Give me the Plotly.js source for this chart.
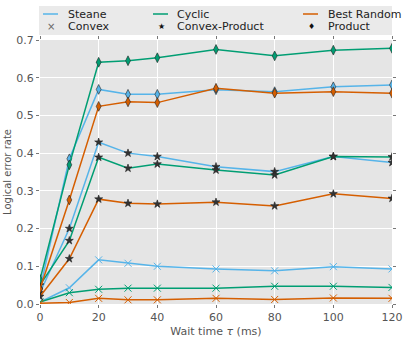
<!DOCTYPE html>
<html>
<head>
<meta charset="utf-8">
<script src="https://cdn.plot.ly/plotly-3.0.1.min.js"></script>
<style>
  html, body { margin: 0; padding: 0; background: #fff; }
  #vis { width: 407px; height: 340px; }
</style>
</head>
<body>
<div id="vis"></div>
<script>
// wait times (ms)
const waitTime = [0, 10, 20, 30, 40, 60, 80, 100, 120];

// logical error rates
const steaneConvex = [0.005, 0.043, 0.117, 0.108, 0.100, 0.093, 0.088, 0.099, 0.093];
const steaneConvexProduct = [0.030, 0.200, 0.429, 0.400, 0.391, 0.364, 0.351, 0.391, 0.375];
const steaneProduct = [0.040, 0.385, 0.569, 0.556, 0.556, 0.568, 0.563, 0.576, 0.581];

const cyclicConvex = [0.005, 0.030, 0.039, 0.042, 0.042, 0.042, 0.047, 0.047, 0.044];
const cyclicConvexProduct = [0.050, 0.168, 0.389, 0.360, 0.371, 0.355, 0.342, 0.391, 0.390];
const cyclicProduct = [0.065, 0.369, 0.641, 0.645, 0.653, 0.675, 0.658, 0.673, 0.678];

const randomConvex = [0.002, 0.004, 0.015, 0.011, 0.011, 0.015, 0.012, 0.016, 0.015];
const randomConvexProduct = [0.020, 0.120, 0.278, 0.267, 0.265, 0.270, 0.260, 0.292, 0.280];
const randomProduct = [0.040, 0.276, 0.524, 0.536, 0.534, 0.572, 0.559, 0.563, 0.559];

const codeNames = ['Steane', 'Cyclic', 'Best Random'];
const codeColors = ['#56B4E9', '#009E73', '#D55E00'];
const schemeNames = ['Convex', 'Convex-Product', 'Product'];
const schemeSymbols = ['x-thin-open', 'star', 'diamond-tall'];
const schemeGlyphs = ['×', '★', '♦'];

const series = [
  [steaneConvex, steaneConvexProduct, steaneProduct],
  [cyclicConvex, cyclicConvexProduct, cyclicProduct],
  [randomConvex, randomConvexProduct, randomProduct],
];

const traces = [];
series.forEach((codeSeries, ci) => {
  codeSeries.forEach((ys, si) => {
    const isX = si === 0;
    traces.push({
      x: waitTime,
      y: ys,
      type: 'scatter',
      mode: 'lines+markers',
      showlegend: false,
      hoverinfo: 'skip',
      line: { color: codeColors[ci], width: 1.5 },
      marker: {
        symbol: schemeSymbols[si],
        size: si === 1 ? 6 : 7,
        color: si === 1 ? '#333' : codeColors[ci],
        line: { color: isX ? codeColors[ci] : '#222', width: isX ? 1 : 0.6 },
      },
    });
  });
});

// legend box above the axes, drawn by hand (three columns, two rows)
const W = 407, H = 340;
const colLine = [43, 153, 303];   // left end of line handle, px
const colText = [66, 175, 326];   // text start, px
const rowY = [14, 26];            // row centres, px

const shapes = [{
  type: 'rect', xref: 'paper', yref: 'paper',
  x0: (39 - 40) / 352, x1: (392 - 40) / 352,
  y0: (304 - 35) / 264, y1: (304 - 6) / 264,
  fillcolor: '#EAEAEA', line: { width: 0 }, layer: 'below',
}];
const annotations = [];
codeNames.forEach((name, i) => {
  shapes.push({
    type: 'line', xref: 'paper', yref: 'paper',
    x0: (colLine[i] - 40) / 352, x1: (colLine[i] + 15 - 40) / 352,
    y0: (304 - rowY[0]) / 264, y1: (304 - rowY[0]) / 264,
    line: { color: codeColors[i], width: 1.5 },
  });
  annotations.push({
    text: name, xref: 'paper', yref: 'paper',
    x: (colText[i] - 40) / 352, y: (304 - rowY[0]) / 264,
    xanchor: 'left', yanchor: 'middle', showarrow: false,
    font: { size: 11, color: '#222' },
  });
});
schemeNames.forEach((name, i) => {
  annotations.push({
    text: schemeGlyphs[i], xref: 'paper', yref: 'paper',
    x: (colLine[i] + 8 - 40) / 352, y: (304 - rowY[1]) / 264,
    xanchor: 'center', yanchor: 'middle', showarrow: false,
    font: { size: i === 0 ? 10 : 8, color: i === 0 ? '#666' : '#111' },
  });
  annotations.push({
    text: name, xref: 'paper', yref: 'paper',
    x: (colText[i] - 40) / 352, y: (304 - rowY[1]) / 264,
    xanchor: 'left', yanchor: 'middle', showarrow: false,
    font: { size: 11, color: '#222' },
  });
});

const layout = {
  width: W,
  height: H,
  margin: { l: 40, r: 15, t: 40, b: 36 },
  paper_bgcolor: '#fff',
  plot_bgcolor: '#E5E5E5',
  showlegend: false,
  font: { family: 'DejaVu Sans', size: 11, color: '#555' },
  xaxis: {
    range: [0, 120],
    tickvals: [0, 20, 40, 60, 80, 100, 120],
    showgrid: true,
    gridcolor: '#fff',
    gridwidth: 1,
    zeroline: false,
    ticks: 'outside',
    ticklen: 3,
    tickcolor: '#777',
    mirror: 'ticks',
    tickfont: { size: 11, color: '#555' },
    title: { text: 'Wait time <i>τ</i> (ms)', font: { size: 11, color: '#555' }, standoff: 4 },
  },
  yaxis: {
    range: [0, 0.7],
    tickvals: [0, 0.1, 0.2, 0.3, 0.4, 0.5, 0.6, 0.7],
    tickformat: '.1f',
    showgrid: true,
    gridcolor: '#fff',
    gridwidth: 1,
    zeroline: false,
    ticks: 'outside',
    ticklen: 3,
    tickcolor: '#777',
    mirror: 'ticks',
    tickfont: { size: 11, color: '#555' },
    title: { text: 'Logical error rate', font: { size: 10, color: '#555' }, standoff: 2 },
  },
  shapes: shapes,
  annotations: annotations,
};

Plotly.newPlot('vis', traces, layout, { displayModeBar: false, staticPlot: true });
</script>
</body>
</html>
